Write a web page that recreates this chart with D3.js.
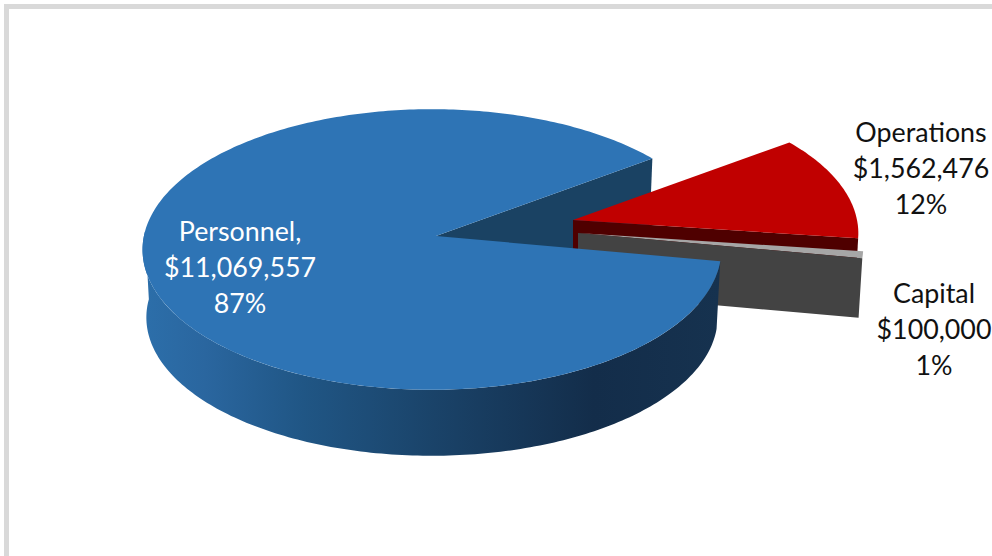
<!DOCTYPE html>
<html>
<head>
<meta charset="utf-8">
<script src="https://cdn.jsdelivr.net/npm/d3@7"></script>
<style>
    html, body { margin: 0; padding: 0; background: #fff; overflow: hidden; }
    text { font-family: Lato, "Open Sans", sans-serif; font-size: 26.8px; text-anchor: middle; }
</style>
</head>
<body>
<script>
//data
const categories = ["Personnel", "Operations", "Capital"]
const amounts = [11069557, 1562476, 100000]
const percents = [87, 12, 1]

//label text as it is written on the chart
const nameLabels = ["Personnel,", "Operations", "Capital"]

const width = 992
const height = 556

const colors = { top: ["#2e74b5", "#c00000", "#a6a6a6"], wall: ["#1a4263", "#4f0000", "#434343"] }

//explode offset of each slice, height of its side, label position of the first line
const explode = [[0, 0], [137, -16], [142, -3]]
const depths = [68, 68, 60]
const labelPos = [[240, 241], [921, 142], [934, 303]]

//pie center on screen + perspective
const center = [436, 236]
const rx = 288, ry = 139, kv = 0.096, ku = 0.014
const bottomScale = 0.987

const svg = d3.select("body").append("svg")
    .attr("width", width)
    .attr("height", height)

//grey frame top and left
svg.append("rect").attr("x", 4).attr("y", 4).attr("width", width - 4).attr("height", 5).attr("fill", "#d9d9d9")
svg.append("rect").attr("x", 4).attr("y", 4).attr("width", 5).attr("height", height - 4).attr("fill", "#d9d9d9")

//gradient for the round side of the blue slice
const grad = svg.append("defs").append("linearGradient")
    .attr("id", "side")
    .attr("gradientUnits", "userSpaceOnUse")
    .attr("x1", 148).attr("x2", 720).attr("y1", 0).attr("y2", 0)
grad.selectAll("stop")
    .data([[0, "#2c6ea9"], [0.1, "#2a669f"], [0.27, "#205685"], [0.5, "#1a4369"], [0.78, "#132d4a"], [1, "#16324f"]])
    .join("stop")
    .attr("offset", d => d[0])
    .attr("stop-color", d => d[1])

//angles of the slices, clockwise from 100deg
const startAngle = 100.4 * Math.PI / 180
const slices = d3.pie().sort(null).startAngle(startAngle).endAngle(startAngle + 2 * Math.PI)(amounts)

//from an angle and a radius on the pie to the screen, h = how far down the side
function project(angle, r, off, h) {
    const u = r * Math.sin(angle)
    const v = r * Math.cos(angle)
    const w = 1 + kv * v + ku * u
    const s = h ? bottomScale : 1
    return [
        center[0] + off[0] + s * rx * u / w,
        center[1] + off[1] + s * ry * -v / w + h
    ]
}

const line = d3.line()

function rim(a0, a1, off, h) {
    const n = Math.max(2, Math.ceil(Math.abs(a1 - a0) * 60))
    return d3.range(n + 1).map(i => project(a0 + (a1 - a0) * i / n, 1, off, h))
}

//top face of a slice
function topFace(s, off) {
    return line([project(0, 0, off, 0)].concat(rim(s.startAngle, s.endAngle, off, 0))) + "Z"
}

//flat cut side of a slice
function cutWall(angle, off, h) {
    return line([
        project(0, 0, off, 0),
        project(angle, 1, off, 0),
        project(angle, 1, off, h),
        project(0, 0, off, h)
    ]) + "Z"
}

//blue cut side at the back
svg.append("path")
    .attr("d", cutWall(slices[0].endAngle, explode[0], depths[0]))
    .attr("fill", colors.wall[0])

//red slice
svg.append("path")
    .attr("d", cutWall(slices[1].endAngle, explode[1], depths[1]))
    .attr("fill", colors.wall[1])
svg.append("path")
    .attr("d", topFace(slices[1], explode[1]))
    .attr("fill", colors.top[1])

//grey slice
svg.append("path")
    .attr("d", topFace(slices[2], explode[2]))
    .attr("fill", colors.top[2])
svg.append("path")
    .attr("d", cutWall(slices[2].endAngle, explode[2], depths[2]))
    .attr("fill", colors.wall[2])

//round side of the blue slice, only the part we can see
const sideEnd = 272 * Math.PI / 180
svg.append("path")
    .attr("d", line(rim(slices[0].startAngle, sideEnd, explode[0], 0)
        .concat(rim(sideEnd, slices[0].startAngle, explode[0], depths[0]))) + "Z")
    .attr("fill", "url(#side)")

//top of the blue slice
svg.append("path")
    .attr("d", topFace(slices[0], explode[0]))
    .attr("fill", colors.top[0])

//labels
const fmt = d3.format("$,")
categories.forEach((c, i) => {
    const label = svg.append("text")
        .attr("x", labelPos[i][0])
        .attr("y", labelPos[i][1])
        .attr("fill", i == 0 ? "#fff" : "#111")
    const lines = [nameLabels[i], fmt(amounts[i]), percents[i] + "%"]
    lines.forEach((t, j) => {
        label.append("tspan")
            .attr("x", labelPos[i][0])
            .attr("dy", j == 0 ? 0 : 36)
            .text(t)
    })
})
</script>
</body>
</html>
